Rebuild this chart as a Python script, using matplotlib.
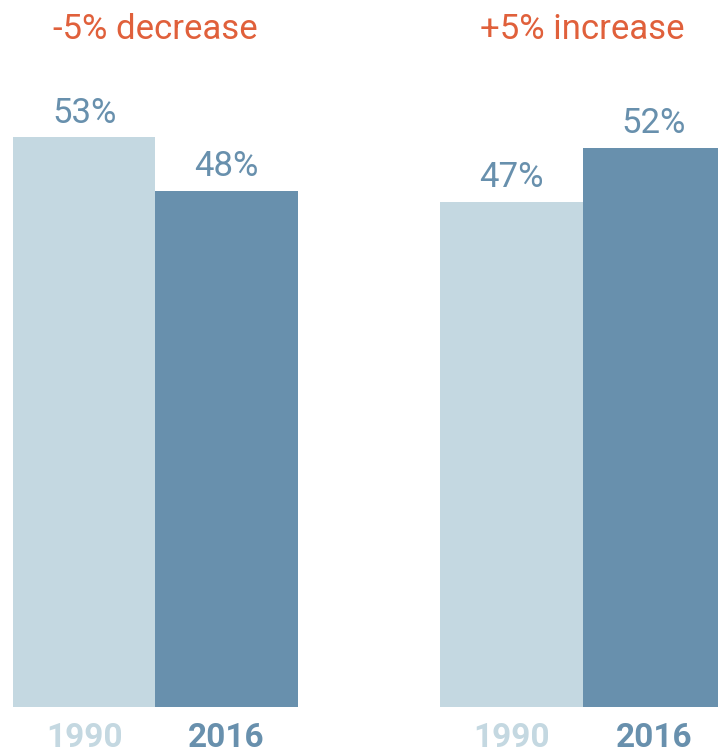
import matplotlib

matplotlib.use("Agg")
import matplotlib.pyplot as plt

# values
years = ["1990", "2016", "1990", "2016"]
shares = [53, 48, 47, 52]
positions = [0, 1, 3, 4]
group_titles = ["-5% decrease", "+5% increase"]
group_centers = [0.5, 3.5]

LIGHT = "#c4d8e1"
DARK = "#6890ad"
ORANGE = "#e0603b"
colors = [LIGHT, DARK, LIGHT, DARK]

plt.rcParams["font.family"] = ["Roboto", "DejaVu Sans"]

fig = plt.figure(figsize=(7.18, 7.55), dpi=100)
ax = fig.add_axes([13 / 718, 48 / 755, 705 / 718, 707 / 755])

ax.bar(positions, shares, width=1.0, color=colors, linewidth=0)

for x, v in zip(positions, shares):
    ax.text(x, v + 0.7, f"{v}%", ha="center", va="bottom",
            fontsize=25, color=DARK)

for x, t in zip(group_centers, group_titles):
    ax.text(x, 61.5, t, ha="center", va="bottom", fontsize=25, color=ORANGE)

for x, y, c in zip(positions, years, colors):
    ax.text(x, -2.9, y, ha="center", va="center", fontsize=24,
            fontweight="bold", color=c, clip_on=False)

ax.set_xlim(-0.5, 4.45)
ax.set_ylim(0, 707 / 10.75)
ax.axis("off")

fig.savefig("out.png", dpi=100)
